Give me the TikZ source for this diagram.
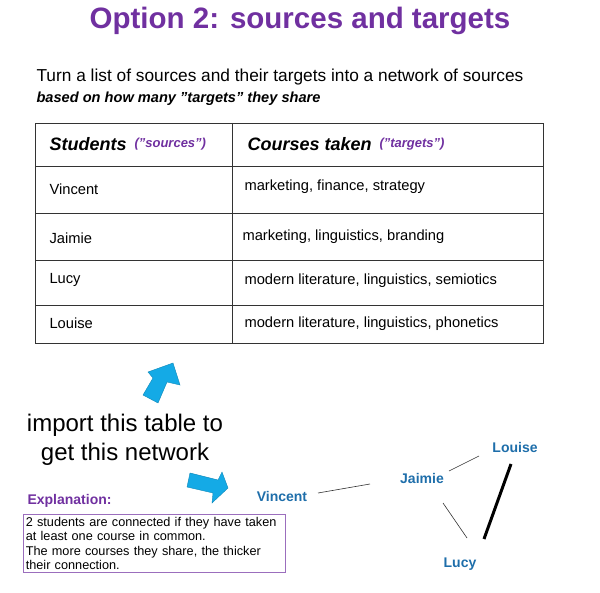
\documentclass[tikz,border=0pt]{standalone}
\usepackage{fontspec}
\setmainfont{Liberation Sans}
\definecolor{purp}{RGB}{112,48,160}
\definecolor{netblue}{RGB}{30,110,170}
\definecolor{arrcyan}{RGB}{20,170,230}
\newcommand{\sq}{\char34\relax}
\tikzset{
  cell/.style={anchor=west,font=\fontsize{14.7}{16}\selectfont},
  hdr/.style={anchor=west,font=\fontsize{18}{20}\selectfont\bfseries\itshape},
  sub/.style={anchor=west,text=purp,font=\fontsize{13}{15}\selectfont\bfseries\itshape},
  net/.style={text=netblue,font=\fontsize{14}{16}\selectfont\bfseries,inner sep=3pt},
  blockarrow/.style={fill=arrcyan,draw=arrcyan!80!black,line width=0.4pt},
  link/.style={draw=black!80,line width=0.6pt}
}
\begin{document}
\begin{tikzpicture}[x=1pt,y=-1pt]
\useasboundingbox (0,0) rectangle (600,593);
\node[text=purp,font=\fontsize{29.5}{32}\selectfont\bfseries] (title) at (300,21) {Option 2: sources and targets};
\node[anchor=west,font=\fontsize{17.3}{19}\selectfont] (intro) at (33,77) {Turn a list of sources and their targets into a network of sources};
\node[anchor=west,font=\fontsize{14.6}{16}\selectfont\bfseries\itshape] (intro2) at (33,99) {based on how many \sq targets\sq\ they share};
% table
\draw[line width=0.6pt,black!80] (35,123) rectangle (543,343);
\foreach \y in {166,213,260,305} \draw[line width=0.6pt,black!80] (35,\y) -- (543,\y);
\draw[line width=0.6pt,black!80] (232,123) -- (232,343);
\node[hdr] (h1) at (46,144) {Students};
\node[sub] (h1s) at (131,144) {(\sq sources\sq)};
\node[hdr] (h2) at (244,144) {Courses taken};
\node[sub] (h2s) at (376,144) {(\sq targets\sq)};
\node[cell] (r1a) at (46,189) {Vincent};
\node[cell] (r1b) at (241,187) {marketing, finance, strategy};
\node[cell] (r2a) at (46,238) {Jaimie};
\node[cell] (r2b) at (239,237) {marketing, linguistics, branding};
\node[cell] (r3a) at (46,280) {Lucy};
\node[cell] (r3b) at (241,281) {modern literature, linguistics, semiotics};
\node[cell] (r4a) at (46,323) {Louise};
\node[cell] (r4b) at (241,324) {modern literature, linguistics, phonetics};
% arrows
\draw[blockarrow] (143,395) -- (153,378) -- (148,372) -- (173,363) -- (180,385) -- (167,382) -- (158,403) -- cycle;
\draw[blockarrow] (190,473) -- (218,480) -- (222,472) -- (228,488) -- (212,503) -- (213,493) -- (187,487) -- cycle;
\node[align=center,font=\fontsize{24}{29}\selectfont] (imp) at (125,440) {import this table to\\get this network};
% explanation
\node[anchor=west,text=purp,font=\fontsize{14}{16}\selectfont\bfseries] (exh) at (24,501) {Explanation:};
\node[draw=purp!70,line width=0.6pt,anchor=north west,align=left,text width=257pt,inner sep=2.5pt,font=\fontsize{12.7}{14.5}\selectfont] (exb) at (23,514) {2 students are connected if they have taken\\at least one course in common.\\The more courses they share, the thicker\\their connection.};
% network
\node[net] (vin) at (282,496) {Vincent};
\node[net] (jai) at (422,478) {Jaimie};
\node[net] (lou) at (515,447) {Louise};
\node[net] (luc) at (460,564) {Lucy};
\draw[link] (318,493) -- (370,484);
\draw[link] (449,471) -- (479,456);
\draw[link] (443,503) -- (467,538);
\draw[black,line width=3pt] (511,464) -- (484,539);
\end{tikzpicture}
\end{document}
